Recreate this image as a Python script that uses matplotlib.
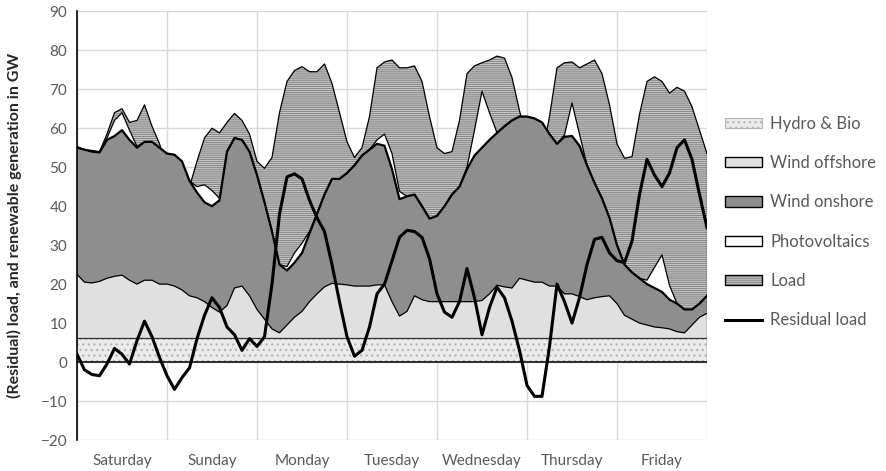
import numpy as np
import matplotlib.pyplot as plt
from matplotlib.patches import Patch
from matplotlib.lines import Line2D
from matplotlib.legend_handler import HandlerTuple

plt.rcParams['font.family'] = ['Lato', 'DejaVu Sans']
plt.rcParams['hatch.linewidth'] = 0.9

# one week, one value every 2 hours (Saturday 0:00 ... Friday 24:00)
hours = np.arange(0, 169, 2)
days = ["Saturday", "Sunday", "Monday", "Tuesday", "Wednesday", "Thursday", "Friday"]

# generation in GW
hydro_bio = 6.2   # flat band over the whole week

wind_offshore = [16.3, 14.3, 14.1, 14.5, 15.3, 15.8, 16.1, 14.8, 13.8, 14.8, 14.8, 13.8,
                 13.8, 13.3, 12.3, 10.8, 10.3, 9.3, 7.8, 6.6, 8.3, 12.8, 13.3, 10.8,
                 7.3, 4.8, 2.3, 1.3, 3.3, 5.3, 6.8, 9.3, 11.3, 13.1, 14.0, 13.8,
                 13.6, 13.3, 13.3, 13.3, 13.6, 13.6, 9.3, 5.6, 6.8, 10.8, 9.8, 9.3,
                 9.3, 9.3, 9.3, 9.3, 9.3, 9.3, 9.6, 11.3, 13.5, 13.1, 12.8, 15.3,
                 14.8, 14.3, 14.3, 13.3, 13.3, 11.3, 11.3, 10.6, 9.8, 10.3, 10.6, 10.8,
                 8.8, 5.8, 4.8, 3.8, 3.3, 2.8, 2.6, 2.3, 1.6, 1.3, 3.3, 5.3, 6.3]

wind_onshore = [32.5, 34.0, 33.7, 33.1, 35.5, 36.0, 37.2, 36.0, 35.0, 35.5, 35.5, 35.0,
                33.5, 33.7, 33.0, 29.5, 27.0, 25.5, 26.0, 28.7, 39.5, 38.5, 37.5, 37.0,
                34.5, 30.0, 25.0, 17.5, 14.0, 14.0, 15.0, 17.5, 20.5, 23.7, 26.8, 27.0,
                28.7, 31.0, 33.5, 35.0, 36.2, 35.7, 34.0, 30.0, 29.5, 26.0, 24.0, 21.3,
                22.0, 24.5, 27.5, 29.5, 34.0, 37.5, 39.2, 39.5, 39.1, 41.2, 43.0, 41.5,
                42.0, 42.0, 41.0, 39.0, 36.5, 40.3, 40.5, 38.7, 34.5, 29.5, 25.2, 20.0,
                15.0, 13.0, 12.0, 11.5, 10.5, 10.0, 9.2, 7.5, 7.2, 6.0, 4.0, 3.5, 4.5]

photovoltaics = [0, 0, 0, 0, 0.5, 4.0, 4.5, 2.5, 0.3, 0, 0, 0,
                 0, 0, 0, 0, 1.5, 4.5, 4.0, 0.5, 0, 0, 0, 0,
                 0, 0, 0, 0, 1.0, 2.5, 2.5, 0.5, 0, 0, 0, 0,
                 0, 0, 0, 0, 1.0, 3.0, 4.0, 2.0, 0, 0, 0, 0,
                 0, 0, 0, 0, 0.5, 6.5, 14.5, 7.0, 0, 0, 0, 0,
                 0, 0, 0, 0, 0, 0.5, 8.5, 3.0, 0, 0, 0, 0,
                 0, 0, 0, 0, 1.0, 5.3, 9.5, 3.7, 0, 0, 0, 0, 0]

load = [55.3, 54.5, 54.3, 54.0, 58.5, 64.0, 65.0, 61.5, 62.0, 66.0, 60.5, 56.0,
        50.0, 46.2, 47.5, 45.0, 51.5, 57.5, 60.0, 58.8, 61.5, 63.8, 62.0, 58.5,
        51.5, 49.7, 52.5, 64.0, 72.0, 74.8, 75.8, 74.5, 74.5, 76.5, 71.5, 64.0,
        56.5, 52.5, 55.0, 63.0, 75.5, 77.0, 77.5, 75.5, 75.5, 76.0, 72.0, 63.0,
        55.0, 53.5, 54.0, 62.0, 74.0, 76.0, 76.8, 77.5, 78.5, 78.0, 73.0, 64.5,
        57.0, 53.7, 52.7, 63.0, 75.5, 76.8, 77.0, 75.5, 76.5, 77.5, 74.0, 66.0,
        56.0, 52.3, 52.7, 63.5, 72.0, 73.2, 72.0, 69.0, 70.5, 69.5, 65.5, 59.5, 53.5]

residual_load = [2.0, -2.0, -3.2, -3.5, -0.5, 3.5, 2.0, -0.5, 5.5, 10.5, 6.5, 1.2,
                 -3.5, -7.0, -4.0, -1.5, 6.0, 12.0, 16.5, 14.0, 9.0, 7.0, 3.0, 6.0,
                 4.0, 6.5, 20.0, 38.0, 47.5, 48.3, 47.0, 41.5, 37.0, 33.5, 25.0, 15.5,
                 6.5, 1.5, 3.0, 9.0, 17.5, 20.0, 26.0, 32.0, 33.8, 33.5, 32.0, 26.5,
                 17.5, 12.8, 11.5, 15.5, 24.0, 16.5, 7.0, 14.0, 19.2, 16.5, 10.5, 3.0,
                 -6.0, -8.8, -8.8, 4.0, 20.0, 15.5, 10.0, 16.5, 25.0, 31.5, 32.0, 28.0,
                 26.0, 25.5, 31.0, 43.0, 52.0, 48.0, 45.0, 48.5, 55.0, 57.0, 52.0, 43.0, 34.5]

# colours
c_hydro, c_hydro_dots = '#ebebeb', '#b5b5b5'
c_off = '#e0e0e0'
c_on = '#8e8e8e'
c_load, c_load_lines = '#d2d2d2', '#8a8a8a'
c_text = '#595959'
load_hatch = '--------'

# stacked levels
hydro_top = np.full(len(hours), hydro_bio)
off_top = hydro_top + np.array(wind_offshore)
on_top = off_top + np.array(wind_onshore)
pv_top = on_top + np.array(photovoltaics)

fig = plt.figure(figsize=(8.87, 4.71), dpi=100)
ax = fig.add_axes([77 / 887, 31 / 471, 630 / 887, 428.7 / 471])

# load in the background, renewables stacked on top of it
ax.fill_between(hours, 0, load, facecolor=c_load, edgecolor=c_load_lines, hatch=load_hatch, lw=0, zorder=1)
ax.plot(hours, load, color='black', lw=0.9, zorder=2)

ax.fill_between(hours, 0, hydro_top, facecolor=c_hydro, edgecolor=c_hydro_dots, hatch='...', lw=0, zorder=3)
ax.fill_between(hours, hydro_top, off_top, facecolor=c_off, lw=0, zorder=3)
ax.fill_between(hours, off_top, on_top, facecolor=c_on, lw=0, zorder=3)
ax.fill_between(hours, on_top, pv_top, facecolor='white', lw=0, zorder=3)

ax.plot(hours, hydro_top, color='#333333', lw=0.9, zorder=4)
ax.plot(hours, off_top, color='black', lw=0.9, zorder=4)
ax.plot(hours, on_top, color='black', lw=1.6, zorder=4)
ax.plot(hours, pv_top, color='black', lw=0.9, zorder=4)
ax.plot([hours[-1], hours[-1]], [0, max(load[-1], pv_top[-1])], color='black', lw=0.9, zorder=4)
ax.axhline(0, color='black', lw=1.1, zorder=4)

ax.plot(hours, residual_load, color='black', lw=2.2, zorder=6)

# axes styling
ax.set_xlim(0, 168)
ax.set_ylim(-20, 90)
ax.set_yticks(np.arange(-20, 91, 10))
ax.set_xticks(np.arange(0, 169, 24))
ax.set_xticklabels([])
ax.set_xticks(np.arange(12, 168, 24), minor=True)
ax.set_xticklabels(days, minor=True)
ax.tick_params(axis='both', which='both', length=0, colors=c_text, labelsize=11)
ax.tick_params(axis='x', which='minor', pad=10)
ax.tick_params(axis='y', pad=7)
ax.grid(True, which='major', color='#d9d9d9', lw=1)
ax.set_axisbelow(True)
for s in ['top', 'right', 'bottom']:
    ax.spines[s].set_visible(False)
ax.spines['left'].set_color('black')
ax.spines['left'].set_linewidth(1.2)
ax.spines['left'].set_zorder(7)

ax.set_ylabel("(Residual) load, and renewable generation in GW", fontsize=11.5,
              fontweight='bold', color='#262626')
ax.yaxis.set_label_coords(-0.087, 0.5)

# legend
load_fill = Patch(facecolor=c_load, edgecolor=c_load_lines, hatch=load_hatch, lw=0)
load_edge = Patch(facecolor='none', edgecolor='black', lw=1)
handles = [
    Patch(facecolor=c_hydro, edgecolor=c_hydro_dots, hatch='...', lw=0.8),
    Patch(facecolor=c_off, edgecolor='black', lw=1),
    Patch(facecolor=c_on, edgecolor='black', lw=1),
    Patch(facecolor='white', edgecolor='black', lw=1),
    (load_fill, load_edge),
    Line2D([], [], color='black', lw=2.2),
]
labels = ["Hydro & Bio", "Wind offshore", "Wind onshore", "Photovoltaics", "Load", "Residual load"]
leg = fig.legend(handles, labels, loc='center left', bbox_to_anchor=(725 / 887, 1 - 222 / 471),
                 frameon=False, fontsize=12, handlelength=2.2, handleheight=0.6,
                 handletextpad=0.5, labelspacing=1.4, borderpad=0, borderaxespad=0,
                 labelcolor=c_text, handler_map={tuple: HandlerTuple(ndivide=1, pad=0)})

fig.savefig("out.png", dpi=100)
